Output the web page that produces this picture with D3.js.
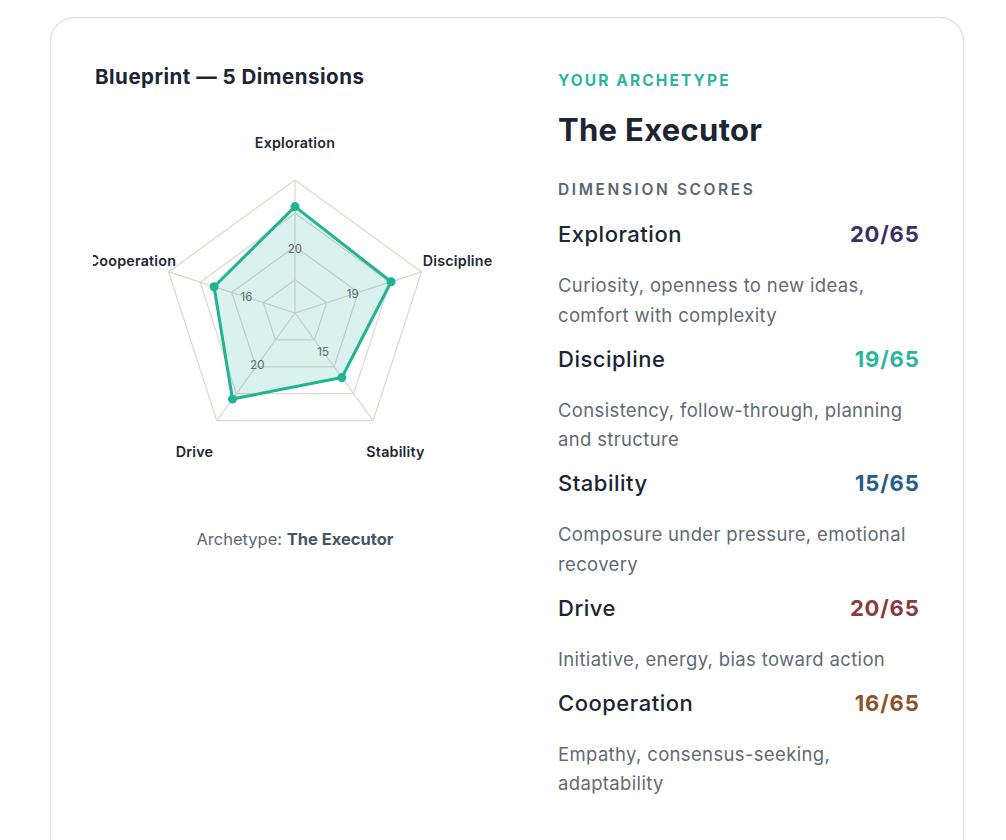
<!DOCTYPE html>
<html>
<head>
<meta charset="utf-8">
<script src="https://cdn.jsdelivr.net/npm/d3@7"></script>
<style>
  html, body { margin: 0; padding: 0; background: #fff; }
  body { width: 1006px; height: 840px; overflow: hidden; font-family: Inter, "Noto Sans", sans-serif; }
</style>
</head>
<body>
<div id="chart"></div>
<script>
// Dimension data
const dimensions = ['Exploration', 'Discipline', 'Stability', 'Drive', 'Cooperation'];
const scores = [20, 19, 15, 20, 16];
const maxScore = 65;
const scoreColors = ['#3d2f66', '#2bb59c', '#255c8c', '#8a3a3e', '#8a5329'];
const descriptions = [
    ['Curiosity, openness to new ideas,', 'comfort with complexity'],
    ['Consistency, follow-through, planning', 'and structure'],
    ['Composure under pressure, emotional', 'recovery'],
    ['Initiative, energy, bias toward action'],
    ['Empathy, consensus-seeking,', 'adaptability']
];
const gridLevels = [0.25, 0.5, 0.75, 1];
const archetype = 'The Executor';

const width = 1006, height = 840;
const svg = d3.select('#chart').append('svg')
    .attr('width', width)
    .attr('height', height);

// Card
svg.append('rect')
    .attr('x', 50.5).attr('y', 17.5)
    .attr('width', 913).attr('height', 900)
    .attr('rx', 24)
    .attr('fill', '#fff')
    .attr('stroke', '#e3e3e3')
    .attr('stroke-width', 1.5);

// Left title
svg.append('text')
    .attr('x', 95).attr('y', 84)
    .attr('font-size', 20.5).attr('font-weight', 700)
    .attr('letter-spacing', 0.5)
    .attr('fill', '#1b2533')
    .text('Blueprint — 5 Dimensions');

// Radar chart, clipped to its own box
svg.append('clipPath').attr('id', 'radar-clip')
    .append('rect').attr('x', 93).attr('y', 100).attr('width', 404).attr('height', 380);

const cx = 295, cy = 313;
const radius = 133;
const rScale = d3.scaleLinear().domain([0, 25]).range([0, radius]);
const angle = i => (Math.PI * 2 * i) / dimensions.length;
const point = (i, r) => [cx + r * Math.sin(angle(i)), cy - r * Math.cos(angle(i))];

const radar = svg.append('g').attr('clip-path', 'url(#radar-clip)');

// Grid rings
radar.append('g')
    .selectAll('polygon')
    .data(gridLevels)
    .join('polygon')
    .attr('points', lvl => dimensions.map((d, i) => point(i, radius * lvl).join(',')).join(' '))
    .attr('fill', 'none')
    .attr('stroke', '#ddd6cd')
    .attr('stroke-width', 1.2);

// Spokes
radar.append('g')
    .selectAll('line')
    .data(dimensions)
    .join('line')
    .attr('x1', cx).attr('y1', cy)
    .attr('x2', (d, i) => point(i, radius)[0])
    .attr('y2', (d, i) => point(i, radius)[1])
    .attr('stroke', '#ddd6cd')
    .attr('stroke-width', 1.2);

// Score polygon
const line = d3.line().curve(d3.curveLinearClosed);
const pts = scores.map((s, i) => point(i, rScale(s)));
radar.append('path')
    .attr('d', line(pts))
    .attr('fill', 'rgba(43, 181, 156, 0.18)')
    .attr('stroke', '#22b394')
    .attr('stroke-width', 3)
    .attr('stroke-linejoin', 'round');

radar.append('g')
    .selectAll('circle')
    .data(pts)
    .join('circle')
    .attr('cx', d => d[0]).attr('cy', d => d[1])
    .attr('r', 4.5)
    .attr('fill', '#22b394');

// Value labels along the spokes
radar.append('g')
    .selectAll('text')
    .data(scores)
    .join('text')
    .attr('x', (s, i) => point(i, rScale(s) * 0.6)[0])
    .attr('y', (s, i) => point(i, rScale(s) * 0.6)[1])
    .attr('text-anchor', 'middle')
    .attr('dominant-baseline', 'central')
    .attr('font-size', 11.5)
    .attr('fill', '#5e6670')
    .text(s => s);

// Axis labels
radar.append('g')
    .selectAll('text')
    .data(dimensions)
    .join('text')
    .attr('x', (d, i) => point(i, 171)[0])
    .attr('y', (d, i) => point(i, 171)[1])
    .attr('text-anchor', 'middle')
    .attr('dominant-baseline', 'central')
    .attr('font-size', 14.3)
    .attr('font-weight', 600)
    .attr('letter-spacing', 0.2)
    .attr('fill', '#1e2835')
    .text(d => d);

// Caption
const caption = svg.append('text')
    .attr('x', cx).attr('y', 545)
    .attr('text-anchor', 'middle')
    .attr('font-size', 16.5)
    .attr('fill', '#5b6873');
caption.append('tspan').text('Archetype: ');
caption.append('tspan').attr('font-weight', 700).attr('fill', '#465563').text(archetype);

// Right panel
const px = 558, pr = 919.5;
svg.append('text')
    .attr('x', px).attr('y', 86)
    .attr('font-size', 15.5).attr('font-weight', 700)
    .attr('letter-spacing', 2.1)
    .attr('fill', '#2bb59c')
    .text('YOUR ARCHETYPE');

svg.append('text')
    .attr('x', px).attr('y', 141)
    .attr('font-size', 31).attr('font-weight', 700)
    .attr('letter-spacing', 0.3)
    .attr('fill', '#1b2533')
    .text(archetype);

svg.append('text')
    .attr('x', px).attr('y', 195)
    .attr('font-size', 15.5).attr('font-weight', 600)
    .attr('letter-spacing', 2.6)
    .attr('fill', '#566673')
    .text('DIMENSION SCORES');

// Rows
let y = 234;
dimensions.forEach((name, i) => {
    const row = svg.append('g');
    row.append('text')
        .attr('x', px).attr('y', y)
        .attr('dominant-baseline', 'central')
        .attr('font-size', 22).attr('font-weight', 500)
        .attr('letter-spacing', 0.5)
        .attr('fill', '#1b2533')
        .text(name);
    row.append('text')
        .attr('x', pr).attr('y', y)
        .attr('text-anchor', 'end')
        .attr('dominant-baseline', 'central')
        .attr('font-size', 22).attr('font-weight', 700)
        .attr('letter-spacing', 0.8)
        .attr('fill', scoreColors[i])
        .text(`${scores[i]}/${maxScore}`);
    row.append('g')
        .selectAll('text')
        .data(descriptions[i])
        .join('text')
        .attr('x', px)
        .attr('y', (d, j) => y + 51 + j * 29.5)
        .attr('dominant-baseline', 'central')
        .attr('font-size', 18.5)
        .attr('letter-spacing', 0.35)
        .attr('fill', '#5f6b74')
        .text(d => d);
    y += 51 + (descriptions[i].length - 1) * 29.5 + 44;
});
</script>
</body>
</html>
